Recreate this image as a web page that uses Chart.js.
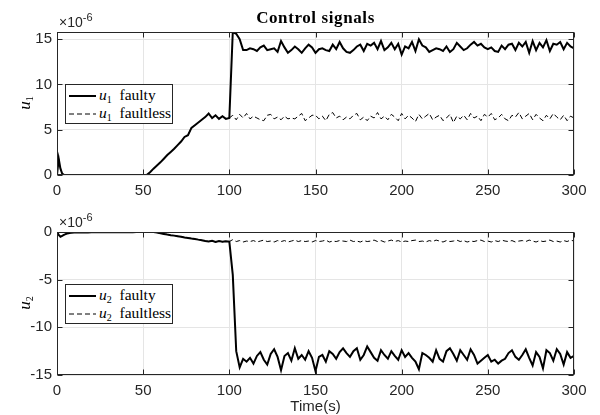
<!DOCTYPE html>
<html>
<head>
<meta charset="utf-8">
<script src="https://cdn.jsdelivr.net/npm/chart.js@4.4.0/dist/chart.umd.min.js"></script>
<style>
  body { margin: 0; background: #fff; }
  #wrap { position: relative; width: 600px; height: 415px; overflow: hidden; }
  .box { position: absolute; left: 0; width: 600px; }
  .txt { position: absolute; color: #000; white-space: nowrap; }
  .sans { font-family: "Liberation Sans", Arial, sans-serif; color: #262626; }
  .serif { font-family: "Liberation Serif", "Times New Roman", serif; }
  .ylab { transform: translate(-50%, -50%) rotate(-90deg); font-size: 17px; }
  .legend { position: absolute; left: 65px; width: 106px; height: 38px; border: 1px solid #262626; background: #fff; }
  .row { position: absolute; left: 3px; height: 18px; font-size: 15.5px; line-height: 18px; }
  .row svg { vertical-align: middle; margin-right: 3px; }
  sub { font-size: 10px; vertical-align: -3px; }
</style>
</head>
<body>
<div id="wrap">
  <div class="box" style="top:0;height:200px"><canvas id="topChart"></canvas></div>
  <div class="box" style="top:200px;height:215px"><canvas id="bottomChart"></canvas></div>

  <div class="txt serif" style="left:57px;width:517px;top:8px;text-align:center;font-weight:bold;font-size:17px;letter-spacing:0.6px">Control signals</div>
  <div class="txt sans" style="left:59px;top:14px;font-size:14px">×10<span style="position:relative;top:-6px;font-size:11px">-6</span></div>
  <div class="txt sans" style="left:59px;top:214px;font-size:14px">×10<span style="position:relative;top:-6px;font-size:11px">-6</span></div>
  <div class="txt serif ylab" style="left:25px;top:103px"><i>u</i><sub>1</sub></div>
  <div class="txt serif ylab" style="left:25px;top:303px"><i>u</i><sub>2</sub></div>
  <div class="txt sans" style="left:57px;width:517px;top:397px;text-align:center;font-size:15px">Time(s)</div>

  <div class="legend serif" style="top:84px">
    <div class="row" style="top:1px"><svg width="27" height="4"><line x1="0" y1="2" x2="27" y2="2" stroke="#000" stroke-width="2"/></svg><i>u</i><sub>1</sub>&nbsp; faulty</div>
    <div class="row" style="top:19px"><svg width="27" height="4"><line x1="0" y1="2" x2="27" y2="2" stroke="#000" stroke-width="1" stroke-dasharray="5,3"/></svg><i>u</i><sub>1</sub>&nbsp; faultless</div>
  </div>
  <div class="legend serif" style="top:284px">
    <div class="row" style="top:1px"><svg width="27" height="4"><line x1="0" y1="2" x2="27" y2="2" stroke="#000" stroke-width="2"/></svg><i>u</i><sub>2</sub>&nbsp; faulty</div>
    <div class="row" style="top:19px"><svg width="27" height="4"><line x1="0" y1="2" x2="27" y2="2" stroke="#000" stroke-width="1" stroke-dasharray="5,3"/></svg><i>u</i><sub>2</sub>&nbsp; faultless</div>
  </div>
</div>
<script>
// Time axis (s)
const time = [0, 1, 2, 3,
  4, 6, 8, 10, 12, 14, 16, 18, 20, 22, 24, 26, 28, 30, 32, 34, 36, 38, 40, 42, 44, 46, 48, 50,
  52, 54, 56, 58, 60, 62, 64, 66, 68, 70, 72, 74, 76, 78, 80, 82, 84, 86, 88, 90, 92, 94, 96, 98, 100,
  102, 104, 106, 108, 110, 112, 114, 116, 118, 120, 122, 124, 126, 128, 130, 132, 134, 136, 138, 140,
  142, 144, 146, 148, 150, 152, 154, 156, 158, 160, 162, 164, 166, 168, 170, 172, 174, 176, 178, 180,
  182, 184, 186, 188, 190, 192, 194, 196, 198, 200, 202, 204, 206, 208, 210, 212, 214, 216, 218, 220,
  222, 224, 226, 228, 230, 232, 234, 236, 238, 240, 242, 244, 246, 248, 250, 252, 254, 256, 258, 260,
  262, 264, 266, 268, 270, 272, 274, 276, 278, 280, 282, 284, 286, 288, 290, 292, 294, 296, 298, 300];

const xTicks = [0, 50, 100, 150, 200, 250, 300];
const u1Ticks = [0, 5, 10, 15];
const u2Ticks = [-15, -10, -5, 0];

// u1 (x1e-6), t = 0..100, same for both cases
const u1Common = [0, 1.8, 0.7, 0.15,
  0.02, 0, 0, 0, 0, 0, 0, 0, 0, 0, 0, 0, 0, 0, 0, 0, 0, 0, 0, 0, 0, 0, 0, 0,
  0, 0.3, 0.7, 1.05, 1.4, 1.8, 2.2, 2.55, 2.9, 3.3, 3.7, 4.2, 4.4, 5.2, 5.5, 5.8, 6.1, 6.4, 6.8,
  6.3, 6.6, 6.2, 6.5, 6.2, 6.3];
// u1, t = 102..300
const u1FaultyAfter = [15.8, 15.6, 15.0, 13.8,
  13.8, 14.0, 13.9, 13.7, 14.1, 14.3, 13.8, 13.9, 14.0, 13.6,
  14.8, 14.1, 13.5, 13.8, 14.2, 13.9, 13.5, 14.0, 14.4, 14.1,
  13.5, 13.9, 14.0, 13.8, 13.7, 14.4, 13.9, 14.7, 14.0, 13.6,
  13.5, 13.8, 14.2, 14.4, 13.7, 14.5, 14.3, 14.6, 13.9, 14.8,
  13.8, 14.1, 14.6, 13.9, 14.5, 13.3, 14.2, 14.0, 14.7, 13.7,
  15.0, 14.3, 14.1, 13.6, 13.8, 14.0, 13.9, 13.7, 14.2, 13.6,
  13.9, 14.6, 14.2, 13.8, 14.0, 14.4, 14.7, 14.3, 14.5, 14.1,
  13.9, 14.1, 13.7, 13.6, 14.3, 13.9, 14.4, 14.5, 13.8, 14.6,
  14.2, 14.7, 13.5, 14.8, 13.8, 14.6, 14.1, 14.9, 13.7, 14.5,
  14.4, 14.7, 13.9, 14.6, 14.2, 14.0];
const u1FaultlessAfter = [6.6, 6.1, 6.7, 6.3,
  6.8, 6.2, 6.5, 6.3, 6.1, 6.0, 6.6, 6.7, 6.2, 6.4,
  6.1, 6.5, 6.2, 6.3, 6.2, 6.5, 6.8, 6.0, 6.3, 6.6,
  6.6, 6.2, 6.5, 6.0, 6.7, 6.9, 6.3, 6.5, 6.1, 6.4,
  6.2, 6.6, 6.8, 6.1, 6.4, 6.0, 6.5, 6.3, 6.9, 6.2,
  6.5, 6.1, 6.7, 6.4, 6.0, 6.8, 6.2, 6.6, 6.3, 5.9,
  6.7, 6.2, 6.5, 6.8, 6.1, 6.4, 6.6, 6.0, 6.3, 6.7,
  5.8, 6.5, 6.2, 6.6, 6.1, 6.8, 6.3, 6.5, 6.0, 6.7,
  6.4, 6.8, 6.1, 6.3, 6.7, 6.2, 6.0, 6.6, 6.4, 6.9,
  6.2, 6.5, 6.8, 6.1, 6.7, 6.3, 6.0, 6.6, 6.2, 6.8,
  6.4, 6.1, 6.6, 6.0, 6.5, 6.3];

// u2 (x1e-6), t = 0..100
const u2Common = [0, -0.3, -0.5, -0.4,
  -0.3, -0.15, -0.08, -0.05, -0.05, -0.04, -0.04, -0.04, -0.03, -0.03, -0.03, -0.03, -0.03, -0.03,
  -0.02, -0.02, -0.02, -0.02, -0.02, -0.02, -0.02, -0.01, -0.01, -0.01,
  -0.01, 0.02, 0, -0.06, -0.13, -0.2, -0.27, -0.33, -0.38, -0.44, -0.5, -0.57, -0.62, -0.68, -0.73,
  -0.8, -0.86, -0.95, -1.0, -0.93, -1.05, -0.95, -1.02, -0.96, -1.0];
// u2, t = 102..300
const u2FaultyAfter = [-4.5, -12.5, -14.2, -13.3,
  -13.6, -13.2, -13.8, -13.0, -12.6, -13.4, -13.9, -12.8, -12.3, -13.1,
  -14.5, -13.0, -12.7, -13.5, -12.2, -13.3, -12.9, -13.4, -12.5, -13.2,
  -14.6, -13.1, -12.9, -13.6, -12.5, -12.8, -13.3, -12.6, -12.2, -12.7,
  -13.1, -12.5, -12.2, -13.4, -12.9, -12.0, -12.6, -13.2, -13.5, -12.4,
  -12.9, -13.3, -12.5, -13.0, -13.4, -12.4, -13.1, -12.7, -13.2, -13.6,
  -14.4, -12.7, -12.9, -13.2, -13.6, -12.4, -13.3, -13.6, -12.5, -12.2,
  -12.8, -13.5, -12.4, -12.9, -13.4, -12.3, -12.9, -13.8, -13.5, -13.2,
  -12.9, -13.6, -13.4, -13.8, -13.5, -13.3, -12.7, -12.4, -13.1, -13.4,
  -12.9, -12.3, -13.2, -14.0, -12.6, -13.1, -14.3, -12.4, -12.7, -13.5,
  -12.3, -12.8, -13.9, -12.6, -13.2, -13.0];
const u2FaultlessAfter = [-0.8, -1.0, -0.9, -1.05,
  -0.95, -1.0, -0.9, -1.05, -0.95, -0.85, -1.0, -0.95, -1.05, -0.9,
  -1.0, -0.9, -1.05, -0.95, -0.85, -1.0, -0.9, -1.0, -0.95, -1.05,
  -0.9, -1.0, -0.95, -0.85, -1.05, -0.95, -1.0, -0.9, -0.95, -1.0,
  -0.85, -1.0, -0.95, -1.05, -0.9, -1.0, -0.95, -0.85, -1.0, -0.9,
  -1.05, -0.95, -0.85, -1.0, -0.9, -1.05, -0.95, -1.0, -0.9, -0.85,
  -1.0, -0.95, -1.05, -0.9, -1.0, -0.85, -0.95, -1.05, -0.9, -1.0,
  -0.95, -0.85, -1.0, -0.9, -1.05, -0.95, -1.0, -0.9, -0.85, -1.0,
  -0.95, -1.05, -0.9, -1.0, -0.85, -0.95, -1.0, -0.9, -1.05, -0.95,
  -0.9, -1.0, -0.85, -0.95, -1.05, -0.9, -1.0, -0.95, -0.85, -1.0,
  -0.95, -1.05, -0.9, -1.0, -0.85, -0.95];

const axisColor = '#262626';

// Draw MATLAB-like box with inward ticks
const boxPlugin = {
  id: 'box',
  afterDraw(chart) {
    const { ctx, chartArea: a, scales } = chart;
    const L = Math.round(a.left) + 0.5, R = Math.round(a.right) - 0.5;
    const T = Math.round(a.top) + 0.5, B = Math.round(a.bottom) - 0.5;
    ctx.save();
    ctx.strokeStyle = axisColor;
    ctx.lineWidth = 1;
    ctx.strokeRect(L, T, R - L, B - T);
    ctx.beginPath();
    scales.x.ticks.forEach(t => {
      const px = Math.round(scales.x.getPixelForValue(t.value)) + 0.5;
      ctx.moveTo(px, B); ctx.lineTo(px, B - 5);
      ctx.moveTo(px, T); ctx.lineTo(px, T + 5);
    });
    scales.y.ticks.forEach(t => {
      const py = Math.round(scales.y.getPixelForValue(t.value)) + 0.5;
      ctx.moveTo(L, py); ctx.lineTo(L + 5, py);
      ctx.moveTo(R, py); ctx.lineTo(R - 5, py);
    });
    ctx.stroke();
    ctx.restore();
  }
};

function toPoints(values) {
  return time.map((t, i) => ({ x: t, y: values[i] }));
}

function makeChart(id, faulty, faultless, yMin, yMax, yTicks, xHeight) {
  return new Chart(document.getElementById(id), {
    type: 'line',
    data: {
      datasets: [
        { label: 'faultless', data: toPoints(faultless), borderColor: '#000', borderWidth: 1, borderDash: [5, 3] },
        { label: 'faulty', data: toPoints(faulty), borderColor: '#000', borderWidth: 2 },
      ],
    },
    options: {
      responsive: true,
      maintainAspectRatio: false,
      animation: false,
      elements: { point: { radius: 0 }, line: { tension: 0 } },
      layout: { padding: { left: 0, right: 26, top: 32, bottom: 0 } },
      plugins: { legend: { display: false }, tooltip: { enabled: false } },
      scales: {
        x: {
          type: 'linear',
          min: 0,
          max: 300,
          afterBuildTicks: s => { s.ticks = xTicks.map(v => ({ value: v })); },
          afterFit: s => { s.height = xHeight; },
          grid: { color: '#e5e5e5', drawTicks: false },
          border: { display: false },
          ticks: { color: axisColor, padding: 7, maxRotation: 0, font: { family: 'Liberation Sans', size: 15 } },
        },
        y: {
          min: yMin,
          max: yMax,
          afterBuildTicks: s => { s.ticks = yTicks.map(v => ({ value: v })); },
          afterFit: s => { s.width = 57; },
          grid: { color: '#e5e5e5', drawTicks: false },
          border: { display: false },
          ticks: { color: axisColor, padding: 5, font: { family: 'Liberation Sans', size: 15 } },
        },
      },
    },
    plugins: [boxPlugin],
  });
}

makeChart('topChart', u1Common.concat(u1FaultyAfter), u1Common.concat(u1FaultlessAfter), 0, 15.8, u1Ticks, 25);
makeChart('bottomChart', u2Common.concat(u2FaultyAfter), u2Common.concat(u2FaultlessAfter), -15, 0, u2Ticks, 40);
</script>
</body>
</html>
